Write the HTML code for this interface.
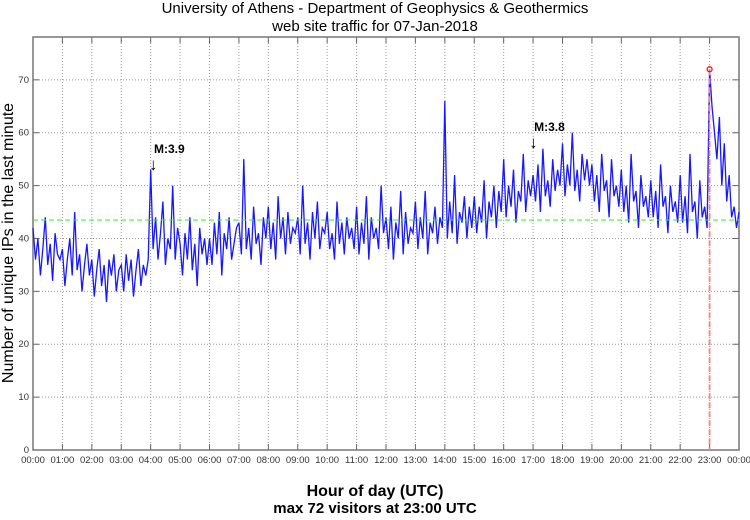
<!DOCTYPE html>
<html><head><meta charset="utf-8"><style>
body{margin:0;background:#fff;width:750px;height:515px;overflow:hidden}
svg{font-family:"Liberation Sans",sans-serif}
</style></head><body>
<svg id="chart" width="750" height="515" viewBox="0 0 750 515" xmlns="http://www.w3.org/2000/svg">
<text x="375" y="13" text-anchor="middle" font-size="15">University of Athens - Department of Geophysics &amp; Geothermics</text>
<text x="375" y="31" text-anchor="middle" font-size="15">web site traffic for 07-Jan-2018</text>
<text transform="translate(13,243) rotate(-90)" text-anchor="middle" font-size="16">Number of unique IPs in the last minute</text>
<text x="375" y="496" text-anchor="middle" font-size="16" font-weight="bold">Hour of day (UTC)</text>
<text x="375" y="513" text-anchor="middle" font-size="15" font-weight="bold">max 72 visitors at 23:00 UTC</text>
<g id="grid"></g><g id="series"></g><g id="over"></g>
</svg>
<script>
const hourLabels=["00:00","01:00","02:00","03:00","04:00","05:00","06:00","07:00","08:00","09:00","10:00","11:00","12:00","13:00","14:00","15:00","16:00","17:00","18:00","19:00","20:00","21:00","22:00","23:00","00:00"];
const yTicks=[0,10,20,30,40,50,60,70];
const visitors=[
42,36,40,33,38,44,35,39,32,41,37,36,
38,31,36,40,33,45,34,37,30,35,39,33,
36,29,34,38,31,35,28,36,33,37,30,34,
35,30,37,32,36,29,34,38,31,35,33,36,
53,38,44,36,41,47,35,40,38,50,36,42,
39,33,41,36,44,34,39,31,42,37,40,35,
40,35,43,37,45,33,41,38,44,36,39,42,
43,37,55,38,42,36,46,39,41,35,44,40,
46,38,43,36,48,40,44,37,45,39,42,41,
44,37,50,39,43,36,45,40,47,38,42,41,
45,38,41,36,47,39,43,37,44,40,42,38,
46,37,43,39,48,36,44,40,42,38,50,41,
44,38,46,36,43,40,49,37,45,39,42,41,
47,38,44,40,49,37,43,41,46,39,44,42,
66,40,47,41,52,39,45,43,48,40,46,42,
48,41,46,43,51,40,47,44,50,42,49,45,
55,44,50,46,53,43,49,47,56,45,51,48,
52,47,54,45,57,48,51,46,55,49,53,50,
58,48,54,50,60,49,53,47,56,51,55,50,
54,47,52,45,56,49,51,44,55,48,50,46,
53,45,50,43,56,47,49,42,52,46,48,44,
51,44,49,42,54,46,48,41,50,45,47,43,
52,43,48,41,56,45,47,40,51,44,46,42,
72,65,60,55,63,50,58,47,52,44,46,42,45];
const meanValue=43.5;
const quakeLabels=["M:3.9","M:3.8"];
const quakeHours=[4.08,17.0];
const maxHour=23.0, maxValue=72;

const L=33,R=739,T=37,B=450,yMax=78.1;
const X=h=>L+(R-L)*h/24;
const Y=v=>B-(B-T)*v/yMax;
const NS="http://www.w3.org/2000/svg";
function mk(p,tag,a){const e=document.createElementNS(NS,tag);for(const k in a)e.setAttribute(k,a[k]);p.appendChild(e);return e;}
const g=document.getElementById('grid'),s=document.getElementById('series'),o=document.getElementById('over');
hourLabels.forEach((lb,i)=>{
  const x=X(i);
  if(i>0&&i<24){const l=mk(g,'line',{x1:x,x2:x,y1:T,y2:B,stroke:'#999','stroke-dasharray':'1,2'});
  }
  const t1=mk(g,'line',{x1:x,x2:x,y1:B,y2:B-6,stroke:'#666'});
  const t2=mk(g,'line',{x1:x,x2:x,y1:T,y2:T+6,stroke:'#666'});
  const t=mk(g,'text',{x:x,y:B+13,'text-anchor':'middle','font-size':'9.5',fill:'#333'});t.textContent=lb;
  
});
yTicks.forEach(v=>{
  const y=Y(v);
  if(v>0){const l=mk(g,'line',{x1:L,x2:R,y1:y,y2:y,stroke:'#999','stroke-dasharray':'1,2'});
  }
  const tk=mk(g,'line',{x1:L,x2:L+6,y1:y,y2:y,stroke:'#666'});
  const tk2=mk(g,'line',{x1:R,x2:R-6,y1:y,y2:y,stroke:'#666'});
  const t=mk(g,'text',{x:L-4,y:y+3,'text-anchor':'end','font-size':'9.5',fill:'#333'});t.textContent=v;
  
});
const fr=mk(g,'rect',{x:L,y:T,width:R-L,height:B-T,fill:'none',stroke:'#777','stroke-width':1.5});

const n=visitors.length-1;
const pts=visitors.map((v,i)=>X(24*i/n).toFixed(1)+','+Y(v).toFixed(1)).join(' ');
const pl=mk(s,'polyline',{points:pts,fill:'none',stroke:'#1818ff','stroke-width':1.3});

const ml=mk(o,'line',{x1:L,x2:R,y1:Y(meanValue),y2:Y(meanValue),stroke:'#33ee33','stroke-dasharray':'5,3'});

const vl=mk(o,'line',{x1:X(maxHour),x2:X(maxHour),y1:Y(maxValue),y2:B,stroke:'#ff8080','stroke-width':1.8,'stroke-dasharray':'6,3'});

const mc=mk(o,'circle',{cx:X(maxHour),cy:Y(maxValue),r:2.5,fill:'none',stroke:'red','stroke-width':1.2});

quakeLabels.forEach((lb,i)=>{
  const x=X(quakeHours[i]);const yb=i==0?153:131;
  const t=mk(o,'text',{x:x+1,y:yb,'font-size':'12','font-weight':'bold'});t.textContent=lb;
  
  const a=mk(o,'text',{x:x-4,y:yb+17,'font-size':'17'});a.textContent='↓';
  
});
</script>
</body></html>
